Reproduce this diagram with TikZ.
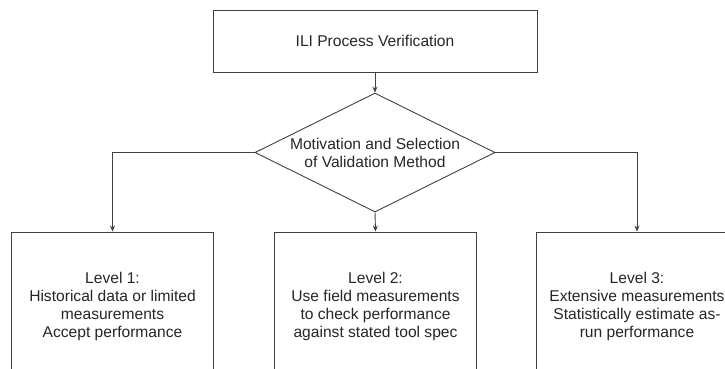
\documentclass[tikz,border=0pt]{standalone}
\usepackage{fontspec}
\setmainfont{Liberation Sans}
\usetikzlibrary{arrows.meta,shapes.geometric}

\begin{document}
\begin{tikzpicture}[x=1bp,y=-1bp,>={Stealth[length=6bp,width=5bp]},
  every node/.style={text=black!85,font=\fontsize{15.6bp}{18bp}\selectfont,align=center},
  linie/.style={draw=black!75,line width=.9bp},
  kasten/.style={linie,inner sep=0pt,minimum width=202bp,minimum height=148bp},
  raute/.style={linie,diamond,aspect=2,inner sep=0pt,minimum width=240bp,minimum height=119bp}]
  \useasboundingbox (0,0) rectangle (725,368);
  % Kopf
  \node[kasten,minimum width=324bp,minimum height=62bp] (ili) at (375,41) {ILI Process Verification};
  % Entscheidung
  \node[raute] (wahl) at (375,152.5) {Motivation and Selection\\of Validation Method};
  % Stufen
  \node[kasten] (stufe1) at (112.5,306) {Level 1:\\Historical data or limited\\measurements\\Accept performance};
  \node[kasten] (stufe2) at (375.5,306) {Level 2:\\Use field measurements\\to check performance\\against stated tool spec};
  \node[kasten] (stufe3) at (637,306) {Level 3:\\Extensive measurements\\Statistically estimate as-\\run performance};
  % Pfeile
  \draw[linie,->] (ili) -- (wahl);
  \draw[linie,->] (wahl.west) -| (stufe1.north);
  \draw[linie,->] (wahl.south) -- (stufe2.north);
  \draw[linie,->] (wahl.east) -| (stufe3.north);
\end{tikzpicture}
\end{document}
